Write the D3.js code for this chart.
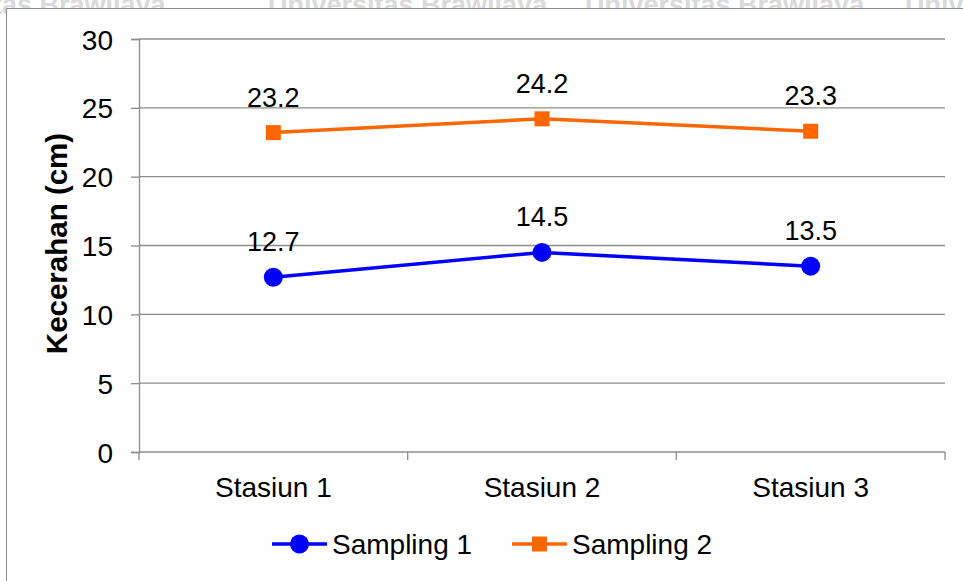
<!DOCTYPE html>
<html>
<head>
<meta charset="utf-8">
<script src="https://cdn.jsdelivr.net/npm/d3@7"></script>
<style>
  html, body { margin: 0; padding: 0; background: #fff; }
  svg { display: block; font-family: "Liberation Sans", Arial, sans-serif; }
</style>
</head>
<body>
<svg id="chart" width="963" height="581"></svg>
<script>
// Data
const stations = ["Stasiun 1", "Stasiun 2", "Stasiun 3"];
const sampling1 = [12.7, 14.5, 13.5];
const sampling2 = [23.2, 24.2, 23.3];
const yTicks = [0, 5, 10, 15, 20, 25, 30];
const seriesNames = ["Sampling 1", "Sampling 2"];
const seriesColors = ["#0000ff", "#ff6600"];
const yTitle = "Kecerahan (cm)";
const watermark = "Universitas Brawijaya";

const svg = d3.select("#chart");
const W = 963, H = 581;

// faint watermark behind the chart frame
const wm = svg.append("g").attr("fill", "#dadada").attr("font-size", 27).attr("font-weight", "bold");
[-40, 268, 585, 905].forEach((x, i) => {
  wm.append("text").attr("x", x).attr("y", 14).text(i === 0 ? "rsitas Brawijaya" : watermark);
});

// chart frame
svg.append("rect").attr("x", 6.5).attr("y", 8.5).attr("width", W + 10).attr("height", H + 10)
  .attr("fill", "#fff").attr("stroke", "#8c8c8c").attr("stroke-width", 1);

const m = { left: 139, right: 945, top: 39, bottom: 452 };
const x = d3.scaleBand().domain(stations).range([m.left, m.right]).paddingInner(0).paddingOuter(0);
const y = d3.scaleLinear().domain([0, 30]).range([m.bottom, m.top]);
const cx = d => x(d) + x.bandwidth() / 2;

// gridlines
svg.append("g").selectAll("line").data(yTicks.filter(t => t > 0)).join("line")
  .attr("x1", m.left).attr("x2", m.right)
  .attr("y1", d => y(d)).attr("y2", d => y(d))
  .attr("stroke", "#8c8c8c").attr("stroke-width", 1.3);

// y axis
const yAxis = svg.append("g").attr("transform", `translate(${m.left},0)`)
  .call(d3.axisLeft(y).tickValues(yTicks).tickSize(8).tickPadding(18).tickFormat(d3.format("d")));
yAxis.select(".domain").attr("stroke", "#8c8c8c").attr("stroke-width", 1.3);
yAxis.selectAll(".tick line").attr("stroke", "#8c8c8c").attr("stroke-width", 1.3);
yAxis.selectAll("text").attr("font-size", 28).attr("fill", "#000")
  .attr("font-family", "Liberation Sans, Arial, sans-serif").attr("dy", "0.36em");

// x axis with ticks at band boundaries
const xAxis = svg.append("g").attr("transform", `translate(0,${m.bottom})`);
xAxis.append("line").attr("x1", m.left).attr("x2", m.right)
  .attr("stroke", "#8c8c8c").attr("stroke-width", 1.3);
const bounds = stations.map(s => x(s)).concat([m.right]);
xAxis.selectAll(".bt").data(bounds).join("line").attr("class", "bt")
  .attr("x1", d => d).attr("x2", d => d).attr("y1", 0).attr("y2", 8)
  .attr("stroke", "#8c8c8c").attr("stroke-width", 1.3);
xAxis.selectAll(".cl").data(stations).join("text").attr("class", "cl")
  .attr("x", d => cx(d)).attr("y", 45).attr("text-anchor", "middle")
  .attr("font-size", 28).attr("fill", "#000").text(d => d);

// y axis title
svg.append("text").attr("transform", `translate(67,${(m.top + m.bottom) / 2 - 2}) rotate(-90)`)
  .attr("text-anchor", "middle").attr("font-size", 29.5).attr("font-weight", "bold").attr("fill", "#000")
  .text(yTitle);

// series
const line = d3.line().x((d, i) => cx(stations[i])).y(d => y(d));
const series = [sampling1, sampling2];
series.forEach((vals, si) => {
  const g = svg.append("g");
  g.append("path").datum(vals).attr("d", line).attr("fill", "none")
    .attr("stroke", seriesColors[si]).attr("stroke-width", 3.5);
  if (si === 0) {
    g.selectAll("circle").data(vals).join("circle")
      .attr("cx", (d, i) => cx(stations[i])).attr("cy", d => y(d)).attr("r", 9.5)
      .attr("fill", seriesColors[si]);
  } else {
    g.selectAll("rect").data(vals).join("rect")
      .attr("x", (d, i) => cx(stations[i]) - 7.5).attr("y", d => y(d) - 7.5)
      .attr("width", 15).attr("height", 15).attr("fill", seriesColors[si]);
  }
  g.selectAll("text").data(vals).join("text")
    .attr("x", (d, i) => cx(stations[i])).attr("y", d => y(d) - 26)
    .attr("text-anchor", "middle").attr("font-size", 27).attr("fill", "#000")
    .text(d => d.toFixed(1));
});

// legend
const legend = svg.append("g").attr("transform", "translate(0,544)");
const legX = [272, 512];
seriesNames.forEach((name, i) => {
  const g = legend.append("g").attr("transform", `translate(${legX[i]},0)`);
  g.append("line").attr("x1", 0).attr("x2", 55).attr("stroke", seriesColors[i]).attr("stroke-width", 3.5);
  if (i === 0) g.append("circle").attr("cx", 27.5).attr("r", 9.5).attr("fill", seriesColors[i]);
  else g.append("rect").attr("x", 20).attr("y", -7.5).attr("width", 15).attr("height", 15).attr("fill", seriesColors[i]);
  g.append("text").attr("x", 60).attr("y", 10).attr("font-size", 28).attr("fill", "#000").text(name);
});
</script>
</body>
</html>
